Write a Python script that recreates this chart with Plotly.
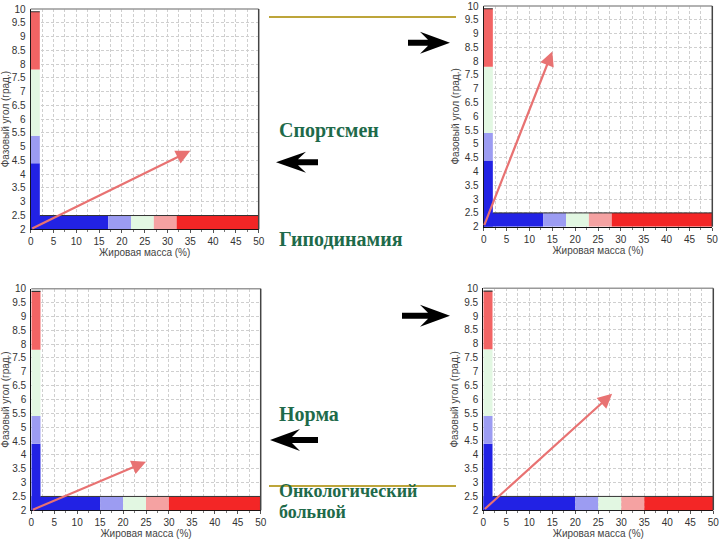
import plotly.graph_objects as go

# ---------------- data ----------------
panel_names = ["график 1", "график 2", "график 3", "график 4"]
fat_breaks_p1 = [0, 17, 22, 27, 32, 50]
fat_breaks_p2 = [0, 13, 18, 23, 28, 50]
fat_breaks_p3 = [0, 15, 20, 25, 30, 50]
fat_breaks_p4 = [0, 20, 25, 30, 35, 50]
fat_breaks = [fat_breaks_p1, fat_breaks_p2, fat_breaks_p3, fat_breaks_p4]
fat_colors = ["#2222e4", "#9c9cf2", "#e2f7e2", "#f5a2a2", "#f32626"]
phase_breaks = [2, 4.4, 5.4, 7.8, 9.9]
phase_colors = ["#2222e4", "#9c9cf2", "#e2f7e2", "#f26464"]
vector_x = [35, 15, 25, 28]
vector_y = [4.85, 8.35, 3.75, 6.2]
vector_x0 = 0
vector_y0 = 2
x_ticks = [0, 5, 10, 15, 20, 25, 30, 35, 40, 45, 50]
y_ticks = [2, 2.5, 3, 3.5, 4, 4.5, 5, 5.5, 6, 6.5, 7, 7.5, 8, 8.5, 9, 9.5, 10]
y_tick_text = ["2", "2.5", "3", "3.5", "4", "4.5", "5", "5.5", "6", "6.5",
               "7", "7.5", "8", "8.5", "9", "9.5", "10"]
x_title = "Жировая масса (%)"
y_title = "Фазовый угол (град.)"
labels = ["Спортсмен", "Гиподинамия", "Норма", "Онкологический", "больной"]

# ---------------- layout helpers ----------------
W, H = 720, 540
# pixel boxes of the four plot areas (left, right, top, bottom)
boxes = [(30.7, 258.7, 9, 229.3), (483.7, 712.3, 6, 226.7),
         (31.3, 260.7, 288.7, 510.3), (483.3, 713.3, 288.3, 510.3)]

fig = go.Figure()
shapes = []
annotations = []
axis_font = dict(family="Liberation Sans, Arial", size=10, color="#333333")
title_font = dict(family="Liberation Sans, Arial", size=10, color="#444444")
grid_col = "#cfcfcf"
grid_dash = "3px,2px"

for i, (l, r, t, b) in enumerate(boxes):
    n = i + 1
    xa = "x" if n == 1 else f"x{n}"
    ya = "y" if n == 1 else f"y{n}"
    fig.add_trace(go.Scatter(x=[vector_x0, vector_x[i]], y=[vector_y0, vector_y[i]],
                             mode="lines", line=dict(color="rgba(0,0,0,0)"),
                             xaxis=xa, yaxis=ya, showlegend=False, hoverinfo="skip",
                             name=panel_names[i]))
    xkey = "xaxis" if n == 1 else f"xaxis{n}"
    ykey = "yaxis" if n == 1 else f"yaxis{n}"
    fig.update_layout(**{
        xkey: dict(domain=[l / W, r / W], range=[0, 50], anchor=ya, automargin=False,
                   tickvals=x_ticks, ticks="outside", ticklen=3, tickcolor="#555",
                   showline=True, linecolor="#111", linewidth=1.2,
                   showgrid=True, gridcolor=grid_col, griddash=grid_dash, gridwidth=1,
                   minor=dict(dtick=2.5, showgrid=True, gridcolor=grid_col,
                              griddash=grid_dash, ticks="outside", ticklen=2, tickcolor="#777"),
                   zeroline=False, tickfont=axis_font,
                   title=dict(text=x_title, font=title_font, standoff=0)),
        ykey: dict(domain=[1 - b / H, 1 - t / H], range=[2, 10], anchor=xa, automargin=False,
                   tickvals=y_ticks, ticktext=y_tick_text, ticks="",
                   showline=True, linecolor="#111", linewidth=1.2,
                   showgrid=True, gridcolor=grid_col, griddash=grid_dash, gridwidth=1,
                   zeroline=False, tickfont=axis_font, ticklabelstandoff=2,
                   title=dict(text=y_title, font=title_font, standoff=3)),
    })
    # horizontal fat bar
    fb = fat_breaks[i]
    for k in range(len(fb) - 1):
        shapes.append(dict(type="rect", xref=xa, yref=ya, x0=fb[k], x1=fb[k + 1],
                           y0=2, y1=2.5, fillcolor=fat_colors[k], line=dict(width=0),
                           layer="above"))
    shapes.append(dict(type="line", xref=xa, yref=ya, x0=2, x1=50, y0=2.5, y1=2.5,
                       line=dict(color="#333", width=1), layer="above"))
    # vertical phase bar
    for k in range(len(phase_breaks) - 1):
        shapes.append(dict(type="rect", xref=xa, yref=ya, x0=0, x1=2,
                           y0=phase_breaks[k], y1=phase_breaks[k + 1],
                           fillcolor=phase_colors[k], line=dict(width=0), layer="above"))
    shapes.append(dict(type="line", xref=xa, yref=ya, x0=0, x1=2,
                       y0=phase_breaks[-1], y1=phase_breaks[-1],
                       line=dict(color="#333", width=1.2), layer="above"))
    # frame top / right
    shapes.append(dict(type="line", xref=f"{xa} domain", yref=f"{ya} domain",
                       x0=0, x1=1, y0=1, y1=1, line=dict(color="#999", width=1.5)))
    shapes.append(dict(type="line", xref=f"{xa} domain", yref=f"{ya} domain",
                       x0=1, x1=1, y0=0, y1=1, line=dict(color="#444", width=1.5)))
    # vector arrow
    annotations.append(dict(x=vector_x[i], y=vector_y[i], xref=xa, yref=ya,
                            ax=vector_x0, ay=vector_y0, axref=xa, ayref=ya,
                            text="", showarrow=True, arrowhead=2, arrowsize=1.3,
                            arrowwidth=2.2, arrowcolor="#e87272", standoff=0))

# ---------------- overlay in pixel coordinates ----------------
fig.add_trace(go.Scatter(x=[], y=[], xaxis="x5", yaxis="y5", showlegend=False))
fig.update_layout(
    xaxis5=dict(domain=[0, 1], range=[0, W], visible=False, fixedrange=True,
                anchor="y5", automargin=False),
    yaxis5=dict(domain=[0, 1], range=[H, 0], visible=False, fixedrange=True,
                anchor="x5", automargin=False),
)

# olive lines
for yy in (17, 486):
    shapes.append(dict(type="line", xref="x5", yref="y5", x0=269, x1=456, y0=yy, y1=yy,
                       line=dict(color="#bda53a", width=2), layer="above"))


def right_arrow(x0, tip, yc, back, half_h):
    return (f"M {x0},{yc-3} L {back+8},{yc-3} L {back},{yc-half_h} L {tip},{yc} "
            f"L {back},{yc+half_h} L {back+8},{yc+3} L {x0},{yc+3} Z")


def left_arrow(x0, tip, yc, back, half_h):
    return (f"M {x0},{yc-3} L {back-8},{yc-3} L {back},{yc-half_h} L {tip},{yc} "
            f"L {back},{yc+half_h} L {back-8},{yc+3} L {x0},{yc+3} Z")


paths = [right_arrow(408, 450, 42.7, 420, 11),
         left_arrow(318, 276, 162.3, 306, 10.5),
         right_arrow(402, 450, 315.7, 420, 11),
         left_arrow(318, 270, 440, 300, 11)]
for p in paths:
    shapes.append(dict(type="path", xref="x5", yref="y5", path=p,
                       fillcolor="#000", line=dict(width=0), layer="above"))

green = "#1e6a4a"
serif = "Liberation Serif, Times New Roman, serif"
text_pos = [(277, 130, 20), (277, 239, 20), (277, 414, 20), (277, 491, 18), (277, 512, 18)]
for txt, (px, py, fs) in zip(labels, text_pos):
    annotations.append(dict(x=px, y=py, xref="x5", yref="y5", text=f"<b>{txt}</b>",
                            showarrow=False, xanchor="left", yanchor="middle",
                            font=dict(family=serif, size=fs, color=green)))

fig.update_layout(width=W, height=H, margin=dict(l=0, r=0, t=0, b=0),
                  paper_bgcolor="white", plot_bgcolor="rgba(0,0,0,0)",
                  shapes=shapes, annotations=annotations, showlegend=False)

fig.write_html("out.html", config={"displayModeBar": False},
               post_script="document.body.style.margin='0';document.body.style.overflow='hidden';")
